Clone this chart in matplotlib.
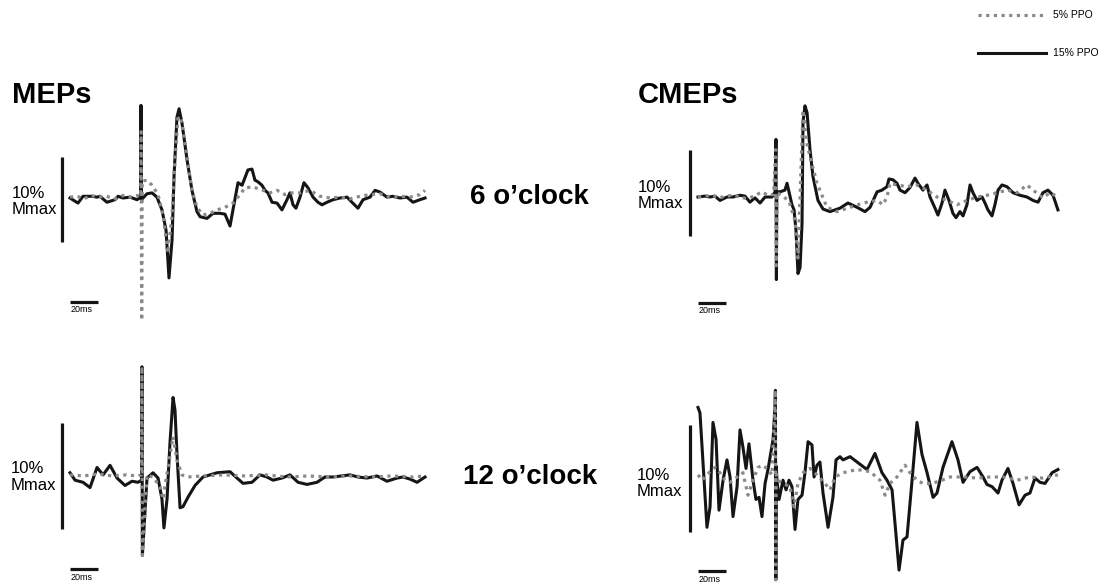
import matplotlib.pyplot as plt

plt.rcParams['font.family'] = ['Liberation Sans', 'DejaVu Sans']

# time (ms) and amplitude (% Mmax)
# MEPs, 6 o'clock
mep6_t15 = [0, 5.7, 9.3, 15.7, 19.3, 21.4, 26.4, 32.1, 34.3, 37.9, 42.9, 47.9, 50.4, 50.7, 51.0, 55, 58.6, 62.1, 65.7, 68.6,
            70.7, 72.9, 74.3, 76.4, 77.9, 80, 83.6, 87.1, 90.7, 92.9, 97.9, 102.1, 107.1, 110.7, 114.3, 116.4, 120, 122.9, 125, 127.1,
            130, 132.1, 134.3, 137.1, 139.3, 141.4, 144.3, 147.9, 151.4, 155, 157.1, 159.3, 161.4, 164.3, 167.1, 170, 173.6, 177.1, 180, 183.6,
            187.9, 192.9, 197.9, 201.4, 205.7, 209.3, 214.3, 217.9, 221.4, 226.4, 230.7, 235.7, 240.7, 245, 250, 253.6]
mep6_a15 = [0, -0.6, 0.2, 0.2, 0.1, 0.2, -0.5, -0.2, 0.2, 0, 0.1, -0.2, 0.1, 10.9, -0.2, 0.5, 0.6, 0.1, -1.4, -3.8,
            -9.4, -4.9, 2.5, 9.5, 10.5, 8.8, 4.5, 0.9, -1.6, -2.2, -2.4, -1.8, -1.8, -1.9, -3.3, -1.4, 1.8, 1.5, 2.4, 3.3,
            3.4, 2.1, 1.9, 1.5, 0.9, 0.6, -0.5, -0.6, -1.4, -0.2, 0.6, -0.8, -1.2, 0.1, 1.8, 1.2, 0.1, -0.5, -0.8, -0.5,
            -0.2, 0, 0.1, -0.5, -1.2, -0.2, 0.1, 0.9, 0.7, 0.1, 0.2, 0, 0.1, -0.5, -0.2, 0]
mep6_t5 = [0, 5, 10, 15, 20, 26, 32, 38, 43, 48, 50.5, 50.8, 51.2, 51.6, 55, 58.6, 62.9, 66.4, 70, 72.9,
           75, 77.1, 79.3, 82.9, 87.1, 90.7, 95, 100, 105, 110.7, 116.4, 121.4, 125, 130.7, 137.9, 142.9, 147.9, 153.6, 157.1, 164.3,
           171.4, 178.6, 185.7, 192.9, 200, 207.1, 214.3, 221.4, 228.6, 235.7, 242.9, 250, 253.6]
mep6_a5 = [0.1, 0.2, -0.1, 0.3, 0.1, 0.2, -0.1, 0.3, 0.1, 0.3, 0.2, 7.8, -14.4, 2.0, 2.1, 1.5, 0.4, -2.0, -6.5, -2.0,
           4.5, 9.5, 9.4, 5.6, 0.9, -1.1, -2.0, -1.8, -1.4, -1.1, -0.6, 0.4, 1.2, 1.3, 0.9, 0.6, 0.9, 0.4, 0.6, 0.6,
           0.9, 0.2, 0, 0.1, -0.1, 0.2, 0.4, 0.5, 0.1, 0.2, 0.1, 0.4, 0.9]

# CMEPs, 6 o'clock
cmep6_t15 = [0, 4.8, 8.6, 12.1, 15.7, 20.7, 25, 30, 33.6, 37.1, 40.7, 44.3, 47.9, 52.9, 55, 55.7, 56.0, 56.3, 58.6, 62.1,
             63.6, 65, 67.1, 68.6, 70, 71.4, 72.9, 74.3, 75, 76.4, 77.9, 80, 82.1, 85.7, 89.3, 94.3, 101.4, 107.1, 113.6, 119.3,
             122.9, 127.9, 131.4, 135, 136.4, 139.3, 142.1, 144.3, 147.9, 151.4, 155, 157.1, 160.7, 163.6, 165.7, 169.3, 171.4, 174.3, 176.4, 179.3,
             182.1, 184.3, 187.1, 189.3, 192.1, 194.3, 196.4, 199.3, 202.9, 205, 207.1, 210, 212.1, 214.3, 217.1, 220.7, 225, 230, 235, 239.3,
             242.9, 246.4, 250, 253.6, 257.1]
cmep6_a15 = [0, 0.1, 0, 0.1, -0.4, 0, 0, 0.2, 0.1, -0.6, -0.1, -0.7, 0, 0, 0.6, 6.7, -9.6, 0.6, 0.6, 0.8,
             1.6, 0.6, -0.9, -1.5, -3.9, -8.9, -8.2, -3.1, 8.7, 10.6, 9.8, 5.5, 2.4, -0.4, -1.4, -1.7, -1.3, -0.7, -1.2, -1.7,
             -1.2, 0.6, 0.8, 1.2, 2.1, 2.0, 1.6, 0.8, 0.5, 1.1, 2.2, 1.6, 0.8, 1.4, 0, -1.3, -2.1, -0.7, 0.8, -0.4,
             -1.9, -2.4, -1.7, -2.2, -0.9, 1.4, 0.5, -0.4, 0, -0.7, -1.5, -2.2, -0.9, 0.8, 1.4, 1.2, 0.5, 0.2, 0, -0.4,
             -0.6, 0.5, 0.8, 0.2, -1.5]
cmep6_t5 = [0, 5, 10, 15, 20, 25, 30, 35, 40, 45.7, 50, 54, 55.5, 55.9, 56.4, 60, 65, 69.3, 71.4, 75,
            78, 85, 92.1, 99.3, 108.6, 117.9, 127.9, 132.1, 135, 137.1, 142.1, 149.3, 156.4, 163.6, 170.7, 177.9, 185, 192.1, 199.3, 206.4,
            213.6, 220.7, 227.9, 235, 239.3, 246.4, 251.4, 257.1]
cmep6_a5 = [0, 0.1, 0.2, -0.1, 0.1, 0.2, 0, -0.2, 0.1, 0.6, 0.2, 0.3, 5.5, -8.0, 0.5, 0.2, -0.5, -2.7, -7.1, 10.1,
            6.0, 1.6, -1.2, -1.7, -1.2, -0.7, -0.4, -0.9, 0, 1.6, 1.4, 1.2, 1.4, 0.8, 0, -0.4, -0.9, -0.4, 0, 0.2,
            0.5, 0.8, 0.5, 1.4, 0.8, -0.1, 0.5, 0]

# MEPs, 12 o'clock
mep12_t15 = [0, 3.6, 9.3, 14.3, 19.3, 23.6, 28.6, 33.6, 39.3, 44.3, 48.6, 51.1, 51.4, 51.7, 55, 59.3, 62.9, 65.7, 67.1, 69.3,
             71.4, 73.6, 75, 76.4, 78.6, 80.7, 84.3, 89.3, 95, 105, 114.3, 119.3, 123.6, 130, 135.7, 140.7, 145, 151.4, 157.1, 162.9,
             169.3, 176.4, 182.1, 187.9, 200, 205.7, 212.1, 219.3, 226.4, 233.6, 237.9, 242.9, 247.9, 253.6]
mep12_a15 = [0.4, -0.3, -0.5, -1.0, 0.9, 0.2, 1.1, -0.1, -0.8, -0.4, -0.5, -0.3, 10.4, -7.4, -0.1, 0.4, -0.1, -2.1, -4.8, -2.1,
             3.2, 7.5, 6.3, 2.2, -2.9, -2.8, -1.9, -0.8, 0, 0.4, 0.5, -0.1, -0.6, -0.5, 0.2, 0, -0.3, -0.1, 0.2, -0.5,
             -0.7, -0.5, 0, 0, 0.2, 0, -0.1, 0.1, -0.4, -0.1, 0, -0.2, -0.5, 0]
mep12_t5 = [0, 10, 20, 30, 40, 48, 51.1, 51.4, 51.7, 55, 59.3, 64.3, 66.4, 70, 73.6, 76.4, 80, 83.6, 95, 110,
            125, 140, 155, 170, 185, 200, 215, 230, 245, 253.6]
mep12_a5 = [0.2, 0.1, 0.3, 0.1, 0.2, 0.1, 0.2, 10.4, -7.4, 0.2, 0, -0.9, -2.1, 0.9, 3.8, 1.6, 0.2, 0, 0.1, 0.2,
            0.1, 0.2, 0, 0.1, 0, 0.1, 0, 0.1, 0, 0.1]

# CMEPs, 12 o'clock
cmep12_t15 = [0, 1.4, 3.6, 6.4, 8.6, 10.7, 12.9, 15, 17.9, 20.7, 22.9, 25, 27.9, 30, 32.1, 34.3, 36.4, 39.3, 41.4, 43.6,
              45.7, 47.9, 50, 53.6, 55, 55.3, 55.6, 55.9, 56.4, 57.9, 60.7, 62.9, 65, 67.1, 69.3, 71.4, 74.3, 76.4, 78.6, 81.4,
              82.9, 85, 87.1, 89.3, 92.9, 96.4, 98.6, 101.4, 103.6, 108.6, 113.6, 120.7, 126.4, 131.4, 135, 138.6, 140.7, 143.6, 146.4, 149.3,
              152.9, 156.4, 160, 163.6, 167.9, 170.7, 175, 181.4, 185.7, 189.3, 194.3, 199.3, 203.6, 206.4, 210, 214.3, 217.1, 221.4, 225, 229.3,
              233.6, 237.1, 240.7, 244.3, 247.9, 252.9, 257.1]
cmep12_a15 = [6.5, 6.0, 1.3, -4.7, -2.8, 5.1, 3.5, -3.1, -0.3, 1.6, 0, -3.7, -0.9, 4.4, 2.8, 0.8, 3.1, -0.3, -2.1, -1.9,
              -3.7, -0.6, 0.7, 3.5, 6.5, 8.1, -9.6, 1.0, -0.3, -2.1, -0.3, -1.2, -0.3, -0.9, -4.9, -2.1, -1.7, 0.4, 3.3, 3.0,
              0, 1.1, 1.4, -1.5, -4.7, -1.9, 1.6, 1.9, 1.6, 1.9, 1.4, 0.7, 2.2, 0.4, -0.3, -1.2, -4.3, -8.7, -5.9, -5.6,
              -0.3, 5.1, 2.1, 0.4, -1.9, -1.5, 0.9, 3.3, 1.6, -0.5, 0.5, 0.9, 0, -0.7, -0.9, -1.5, -0.3, 0.8, -0.6, -2.6,
              -1.7, -1.5, -0.1, -0.5, -0.6, 0.4, 0.7]
cmep12_t5 = [0, 2.9, 5, 8.6, 12.1, 15.7, 19.3, 22.9, 27.9, 32.1, 35.7, 39.3, 42.9, 46.4, 50, 52.9, 55.2, 55.5, 55.8, 57.1,
             60.7, 65.7, 68.6, 71.4, 75, 80, 85, 90.7, 94.3, 97.9, 103.6, 113.6, 122.9, 130, 133.6, 137.1, 142.1, 147.9, 151.4, 156.4,
             160.7, 167.1, 174.3, 180, 189.3, 199.3, 208.6, 217.9, 227.9, 237.1, 246.4, 257.1]
cmep12_a5 = [0.2, -0.3, 0, 0.5, 0.9, 0.4, -0.3, -0.5, 0, 0.4, -1.7, -0.3, 0.9, 1.1, 0.7, 0.2, 8.1, -9.6, 0.3, -0.3,
             -0.6, -0.9, -2.8, -0.6, 0.4, 0.8, 0.2, -0.6, -1.2, 0, 0.4, 0.7, 0.5, -0.3, -1.7, -0.6, 0, 1.1, 0.4, -0.3,
             -0.6, -0.6, -0.3, 0, 0, -0.1, 0, 0, -0.3, 0, -0.1, 0.2]

labels = ['5% PPO', '15% PPO']
W, H = 1118, 587
GREY = '#8a8a8a'


def make_panel(fig, box, origin, px_pct, px_ms=1.4):
    # box = (left, top, right, bottom) in pixels, origin = pixel of t=0 / 0 %
    left, top, right, bottom = box
    x0, y0 = origin
    ax = fig.add_axes([left / W, 1 - bottom / H, (right - left) / W, (bottom - top) / H])
    ax.set_xlim((left - x0) / px_ms, (right - x0) / px_ms)
    ax.set_ylim((y0 - bottom) / px_pct, (y0 - top) / px_pct)
    ax.axis('off')
    return ax


def draw(ax, t15, a15, t5, a5, bar_low, tbar_y, lab_x, lab_y):
    l15, = ax.plot(t15, a15, color='#151515', lw=2.2, solid_joinstyle='round', zorder=2)
    l5, = ax.plot(t5, a5, color=GREY, lw=2.3, ls=(0, (1, 1.4)), zorder=3)
    # 10 % Mmax and 20 ms scale bars
    ax.plot([-5.7, -5.7], [bar_low, bar_low + 10], color='#151515', lw=2.3, solid_capstyle='butt')
    ax.plot([0, 20], [tbar_y, tbar_y], color='#151515', lw=2.3, solid_capstyle='butt')
    ax.text(0.5, tbar_y - 0.4, '20ms', fontsize=6.5, ha='left', va='top')
    ax.text(lab_x, lab_y, '10%\nMmax', fontsize=12, ha='right', va='center',
            multialignment='left', linespacing=1.1)
    return l5, l15


fig = plt.figure(figsize=(W / 100, H / 100), dpi=100)

ax1 = make_panel(fig, (0, 90, 445, 330), (70, 198), 8.5)
h5, h15 = draw(ax1, mep6_t15, mep6_a15, mep6_t5, mep6_a5, -5.2, -12.2, -9.2, -0.4)

ax2 = make_panel(fig, (630, 90, 1075, 330), (698, 197), 8.6)
draw(ax2, cmep6_t15, cmep6_a15, cmep6_t5, cmep6_a5, -4.5, -12.3, -10.5, 0.2)

ax3 = make_panel(fig, (0, 355, 445, 587), (70, 477), 10.6)
draw(ax3, mep12_t15, mep12_a15, mep12_t5, mep12_a5, -4.9, -8.7, -9.6, 0.0)

ax4 = make_panel(fig, (630, 355, 1075, 587), (698, 477), 10.7)
draw(ax4, cmep12_t15, cmep12_a15, cmep12_t5, cmep12_a5, -5.1, -8.8, -11.2, -0.6)

fig.text(12 / W, 1 - 103 / H, 'MEPs', fontsize=21, fontweight='bold', va='baseline', ha='left')
fig.text(638 / W, 1 - 103 / H, 'CMEPs', fontsize=21, fontweight='bold', va='baseline', ha='left')
fig.text(529 / W, 1 - 197 / H, '6 o\u2019clock', fontsize=20, fontweight='bold', va='center', ha='center')
fig.text(530 / W, 1 - 477 / H, '12 o\u2019clock', fontsize=20, fontweight='bold', va='center', ha='center')

fig.legend([h5, h15], labels, loc='upper left', bbox_to_anchor=(973 / W, 1 - 5 / H),
           frameon=False, fontsize=7.5, borderpad=0, handlelength=6.5, handletextpad=0.7,
           labelspacing=2.7)

fig.savefig('out.png', dpi=100)
